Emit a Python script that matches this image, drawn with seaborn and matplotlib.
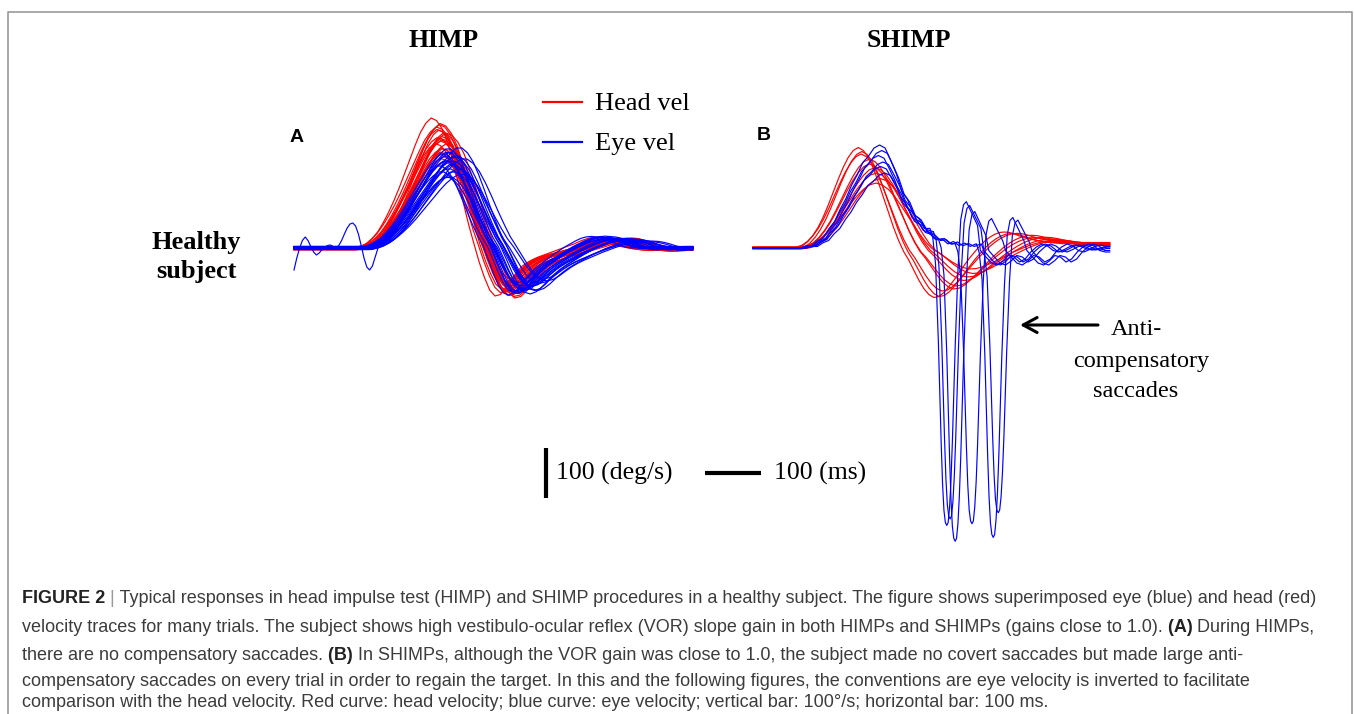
import matplotlib
matplotlib.use("Agg")
import matplotlib.pyplot as plt
from matplotlib.lines import Line2D
import numpy as np
import pandas as pd
import seaborn as sns

W, H = 1354, 714
STEP = 10          # ms between template samples
PX_MS = 0.56       # pixels per ms (100 ms bar = 56 px)
PX_DEG = 0.5       # pixels per deg/s (100 deg/s bar = 50 px)
SERIF = "Liberation Serif"
SANS = "Liberation Sans"
RED, BLUE = "#ff0000", "#0000ff"

# ---------------- panel A (HIMP) ----------------
# head velocity shape: positive lobe (fraction of peak), 0..220 ms after onset
HEAD_A_LOBE = [0.00, 0.01, 0.03, 0.07, 0.12, 0.19, 0.27, 0.36, 0.46, 0.57, 0.68, 0.79,
               0.89, 0.96, 1.00, 0.98, 0.92, 0.82, 0.68, 0.52, 0.35, 0.18, 0.03]
# then the undershoot (fraction of dip), 230..580 ms after onset
HEAD_A_TAIL = [-0.30, -0.62, -0.88, -1.00, -0.97, -0.85, -0.68, -0.52, -0.40, -0.32,
               -0.26, -0.21, -0.17, -0.13, -0.09, -0.05, -0.01, 0.03, 0.07, 0.12,
               0.16, 0.19, 0.20, 0.19, 0.16, 0.12, 0.08, 0.05, 0.02, 0.00,
               -0.02, -0.03, -0.03, -0.02, -0.01, 0.00]
head_a_onset = [112, 118, 122, 106, 128, 115, 120, 132, 110, 125, 108, 130, 119, 116, 124,
                136, 113, 121, 127, 117, 109, 129]
head_a_peak = [258, 252, 246, 242, 238, 234, 231, 228, 225, 222, 219, 216, 213, 210, 206,
               202, 198, 194, 190, 185, 180, 172]
head_a_dip = [98, 92, 88, 95, 80, 86, 90, 72, 84, 78, 100, 70, 82, 88, 76, 65, 93, 74, 68,
              85, 96, 62]
head_a_stretch = [0.95, 1.02, 0.98, 1.06, 0.93, 1.00, 1.08, 0.96, 1.04, 0.99, 1.10, 0.94,
                  1.03, 0.97, 1.05, 0.92, 1.07, 1.00, 0.95, 1.02, 1.09, 0.98]
head_a_base = [2, -3, 1, 0, -2, 3, -1, 2, -4, 1, 0, -2, 3, -1, 2, -3, 1, -2, 0, 2, -1, 1]

EYE_A_LOBE = [0.00, 0.02, 0.05, 0.09, 0.15, 0.22, 0.30, 0.39, 0.49, 0.59, 0.69, 0.79,
              0.88, 0.95, 1.00, 1.00, 0.95, 0.86, 0.73, 0.58, 0.42, 0.27, 0.13, 0.02]
EYE_A_TAIL = [-0.25, -0.55, -0.80, -0.96, -1.00, -0.95, -0.84, -0.70, -0.57, -0.46,
              -0.37, -0.29, -0.21, -0.13, -0.06, 0.01, 0.07, 0.13, 0.18, 0.21,
              0.22, 0.21, 0.20, 0.17, 0.12, 0.06, 0.02, -0.01, -0.02, -0.01, 0.00]
eye_a_onset = [150, 136, 128, 140, 133, 125, 138, 131, 144, 127, 135, 129, 142, 134, 126,
               139, 132, 137, 124, 141, 130, 135]
eye_a_peak = [200, 196, 192, 190, 187, 185, 182, 180, 178, 175, 173, 170, 168, 165, 162,
              160, 157, 154, 150, 147, 143, 140]
eye_a_dip = [85, 78, 90, 70, 82, 94, 75, 88, 66, 80, 92, 72, 84, 77, 96, 68, 86, 74, 90,
             62, 80, 88]
eye_a_stretch = [1.00, 0.96, 1.05, 0.93, 1.08, 0.98, 1.03, 0.95, 1.10, 1.00, 0.94, 1.06,
                 0.97, 1.04, 0.92, 1.07, 0.99, 1.02, 0.96, 1.09, 1.01, 0.95]
eye_a_base = [0, 2, -2, 1, -3, 3, -1, 2, 0, -2, 1, 3, -1, 0, 2, -3, 1, -2, 2, 0, -1, 1]
# the one noisy eye trace before its onset (ms, deg/s)
wiggle_t = [0, 5, 10, 15, 20, 25, 30, 35, 40, 45, 50, 55, 60, 65, 70, 75, 80, 85, 90, 95,
            100, 105, 110, 115, 120, 125, 130, 135, 140, 145, 150]
wiggle_v = [-44, -20, 0, 15, 22, 15, 3, -8, -14, -10, -3, 2, 5, 6, 3, 0, 5, 15, 28, 40,
            48, 50, 44, 28, 5, -20, -38, -44, -36, -18, 0]
A_END = 712

# ---------------- panel B (SHIMP) ----------------
HEAD_B_LOBE = [0.00, 0.02, 0.06, 0.12, 0.20, 0.30, 0.42, 0.55, 0.68, 0.80, 0.90, 0.97,
               1.00, 0.97, 0.90, 0.79, 0.65, 0.50, 0.35, 0.20, 0.07]
HEAD_B_TAIL = [-0.08, -0.25, -0.45, -0.65, -0.82, -0.94, -1.00, -0.98, -0.90, -0.78,
               -0.65, -0.50, -0.36, -0.22, -0.10, 0.02, 0.12, 0.20, 0.26, 0.30,
               0.31, 0.30, 0.27, 0.23, 0.20, 0.17, 0.15, 0.13, 0.12, 0.11,
               0.10, 0.10, 0.10, 0.10, 0.10]
head_b_onset = [80, 84, 78, 88, 86, 92, 90, 95, 85]
head_b_peak = [200, 194, 186, 178, 170, 160, 150, 140, 128]
head_b_dip = [100, 96, 88, 82, 74, 66, 58, 50, 44]
head_b_stretch = [0.90, 0.92, 0.96, 1.00, 1.02, 1.05, 1.08, 1.10, 1.12]
head_b_base = [1, -1, 2, 0, -2, 1, 0, -1, 2]

# eye velocity before the saccade (fraction of peak), 0..350 ms after onset
EYE_B_RISE = [0.00, 0.02, 0.02, 0.07, 0.10, 0.19, 0.26, 0.38, 0.48, 0.61, 0.71, 0.83,
              0.89, 0.97, 1.00, 0.97, 0.85, 0.72, 0.55, 0.47, 0.33, 0.29, 0.19, 0.17,
              0.10, 0.11, 0.05, 0.08, 0.03, 0.06, 0.02, 0.05, 0.01, 0.04, 0.01, 0.03]
# anti-compensatory saccade (fraction of depth), ms around its peak
SAC_T = [-30, -25, -20, -15, -10, -7.5, -5, -2.5, 0, 2.5, 5, 7.5, 10, 15, 20, 25, 30, 35,
         40, 45, 50, 55]
SAC_V = [0.00, 0.03, 0.12, 0.38, 0.72, 0.86, 0.95, 0.99, 1.00, 0.99, 0.94, 0.85, 0.72,
         0.40, 0.14, -0.03, -0.08, -0.09, -0.07, -0.05, -0.03, -0.01]
# eye velocity after the saccade (deg/s), from 60 ms after its peak
EYE_B_POST = [-5, -18, -30, -34, -26, -15, -18, -28, -22, -8, 2, 8, 4, -5, -8, -3, 3, 6,
              3, -2, -4, -1, 2, 3, 1, -1, -2, 0, 1, 0]
eye_b_onset = [86, 90, 84, 92, 88, 95]
eye_b_peak = [206, 195, 185, 172, 163, 150]
eye_b_sac = [346, 352, 361, 391, 429, 438]
eye_b_depth = [594, 575, 605, 560, 587, 537]
B_END = 637


def impulse_trace(onset, lobe, peak, tail, dip, base, end, stretch=1.0, pre_t=None, pre_v=None):
    vals = np.concatenate([np.asarray(lobe) * peak, np.asarray(tail) * dip]) + base
    t = onset + np.arange(len(vals)) * STEP * stretch
    keep = t <= end
    t, vals = t[keep], vals[keep]
    if pre_t is None:
        pre_t, pre_v = [0], [base]
    t = np.concatenate([pre_t, t, [end]])
    vals = np.concatenate([pre_v, vals, [vals[-1]]])
    return t, vals


def saccade_trace(onset, peak, sac, depth, end):
    rise = np.asarray(EYE_B_RISE) * peak
    t_rise = onset + np.arange(len(rise)) * STEP
    pre = t_rise < sac + SAC_T[0]
    level = rise[pre][-1]
    t = np.concatenate([[0], t_rise[pre], sac + np.asarray(SAC_T),
                        sac + 60 + np.arange(len(EYE_B_POST)) * STEP])
    v = np.concatenate([[0], rise[pre], level - depth * np.asarray(SAC_V), EYE_B_POST])
    keep = t <= end
    t, v = t[keep], v[keep]
    return np.append(t, end), np.append(v, v[-1])


frames_a = []
for i in range(len(head_a_onset)):
    t, v = impulse_trace(head_a_onset[i], HEAD_A_LOBE, head_a_peak[i], HEAD_A_TAIL,
                         head_a_dip[i], head_a_base[i], A_END, stretch=head_a_stretch[i])
    frames_a.append(pd.DataFrame({"t": t, "v": v, "kind": "Head vel", "trial": f"h{i}"}))
for i in range(len(eye_a_onset)):
    extra = dict(pre_t=wiggle_t, pre_v=wiggle_v) if i == 0 else {}
    t, v = impulse_trace(eye_a_onset[i], EYE_A_LOBE, eye_a_peak[i], EYE_A_TAIL,
                         eye_a_dip[i], eye_a_base[i], A_END, stretch=eye_a_stretch[i], **extra)
    frames_a.append(pd.DataFrame({"t": t, "v": v, "kind": "Eye vel", "trial": f"e{i}"}))
df_a = pd.concat(frames_a, ignore_index=True)

frames_b = []
for i in range(len(head_b_onset)):
    t, v = impulse_trace(head_b_onset[i], HEAD_B_LOBE, head_b_peak[i], HEAD_B_TAIL,
                         head_b_dip[i], head_b_base[i], B_END, stretch=head_b_stretch[i])
    frames_b.append(pd.DataFrame({"t": t, "v": v, "kind": "Head vel", "trial": f"h{i}"}))
for i in range(len(eye_b_onset)):
    t, v = saccade_trace(eye_b_onset[i], eye_b_peak[i], eye_b_sac[i], eye_b_depth[i], B_END)
    frames_b.append(pd.DataFrame({"t": t, "v": v, "kind": "Eye vel", "trial": f"e{i}"}))
df_b = pd.concat(frames_b, ignore_index=True)


def fx(px):
    return px / W


def fy(py):
    return 1 - py / H


fig = plt.figure(figsize=(W / 100, H / 100), dpi=100)
fig.patch.set_facecolor("white")


def panel_axes(x0, y0, left, right, top, bottom):
    ax = fig.add_axes([fx(left), fy(bottom), (right - left) / W, (bottom - top) / H])
    ax.set_xlim((left - x0) / PX_MS, (right - x0) / PX_MS)
    ax.set_ylim((y0 - bottom) / PX_DEG, (y0 - top) / PX_DEG)
    ax.axis("off")
    return ax


ax_a = panel_axes(294, 248, 284, 900, 90, 520)
ax_b = panel_axes(753, 248, 745, 1120, 120, 565)

palette = {"Head vel": RED, "Eye vel": BLUE}
for ax, df in [(ax_a, df_a), (ax_b, df_b)]:
    sns.lineplot(data=df, x="t", y="v", hue="kind", hue_order=["Head vel", "Eye vel"],
                 units="trial", estimator=None, sort=False, palette=palette,
                 linewidth=0.85, legend=False, ax=ax)
    ax.axis("off")

# scale bars (drawn in panel A units)
ax_a.plot([450, 450], [-400, -500], color="black", lw=3, solid_capstyle="butt", clip_on=False)
ax_a.plot([734, 834], [-450, -450], color="black", lw=3, solid_capstyle="butt", clip_on=False)
ax_a.text(467, -450, "100 (deg/s)", va="center", ha="left", family=SERIF, fontsize=18.5)
ax_a.text(857, -450, "100 (ms)", va="center", ha="left", family=SERIF, fontsize=18.5)

# arrow to the saccades
ax_b.annotate("", xy=((1020 - 753) / PX_MS, (248 - 325) / PX_DEG),
              xytext=((1098 - 753) / PX_MS, (248 - 325) / PX_DEG),
              arrowprops=dict(arrowstyle="->,head_length=0.5,head_width=0.27",
                              lw=2.2, color="black", mutation_scale=20,
                              shrinkA=0, shrinkB=0))
for txt, x, y in [("Anti-", 1136, 335), ("compensatory", 1141, 367), ("saccades", 1136, 397)]:
    fig.text(fx(x), fy(y), txt, ha="center", va="baseline", family=SERIF, fontsize=17.5)

# titles and labels
fig.text(fx(444), fy(47), "HIMP", ha="center", va="baseline", family=SERIF,
         fontweight="bold", fontsize=18.5)
fig.text(fx(909), fy(47), "SHIMP", ha="center", va="baseline", family=SERIF,
         fontweight="bold", fontsize=18.5)
fig.text(fx(196), fy(249), "Healthy", ha="center", va="baseline", family=SERIF,
         fontweight="bold", fontsize=19)
fig.text(fx(196), fy(278), "subject", ha="center", va="baseline", family=SERIF,
         fontweight="bold", fontsize=19)
fig.text(fx(297), fy(142), "A", ha="center", va="baseline", family=SANS,
         fontweight="bold", fontsize=14)
fig.text(fx(764), fy(140), "B", ha="center", va="baseline", family=SANS,
         fontweight="bold", fontsize=14)

# legend
for label, color, y, base in [("Head vel", RED, 102, 110), ("Eye vel", BLUE, 142, 150)]:
    fig.add_artist(Line2D([fx(543), fx(582)], [fy(y), fy(y)], color=color, lw=1.6))
    fig.text(fx(595), fy(base), label, ha="left", va="baseline", family=SERIF, fontsize=19)

# frame around the figure area
fig.add_artist(Line2D([fx(7.5), fx(7.5), fx(1351.5), fx(1351.5)],
                      [0, fy(11.5), fy(11.5), 0], color="#9a9a9a", lw=1.2))

# caption
DARK, TXT, BAR = "#222222", "#3c3c3c", "#9a9a9a"
caption = [
    [("FIGURE 2", "bold", DARK), (" |", "normal", BAR),
     (" Typical responses in head impulse test (HIMP) and SHIMP procedures in a healthy "
      "subject. The figure shows superimposed eye (blue) and head (red)", "normal", TXT)],
    [("velocity traces for many trials. The subject shows high vestibulo-ocular reflex (VOR) "
      "slope gain in both HIMPs and SHIMPs (gains close to 1.0).", "normal", TXT),
     (" (A)", "bold", DARK), (" During HIMPs,", "normal", TXT)],
    [("there are no compensatory saccades.", "normal", TXT), (" (B)", "bold", DARK),
     (" In SHIMPs, although the VOR gain was close to 1.0, the subject made no covert "
      "saccades but made large anti-", "normal", TXT)],
    [("compensatory saccades on every trial in order to regain the target. In this and the "
      "following figures, the conventions are eye velocity is inverted to facilitate",
      "normal", TXT)],
    [("comparison with the head velocity. Red curve: head velocity; blue curve: eye velocity; "
      "vertical bar: 100\u00b0/s; horizontal bar: 100 ms.", "normal", TXT)],
]
baselines = [603, 632, 660, 686, 707]
renderer = fig.canvas.get_renderer()


def draw_line(segments, x, y, size):
    cur = x
    made = []
    for text, weight, color in segments:
        t = fig.text(fx(cur), fy(y), text, fontsize=size, fontweight=weight, color=color,
                     family=SANS, ha="left", va="baseline")
        cur += t.get_window_extent(renderer).width
        made.append(t)
    return cur - x, made


width, tmp = draw_line(caption[0], 22, baselines[0], 12)
for t in tmp:
    t.remove()
cap_size = 12 * 1296 / width
for segs, y in zip(caption, baselines):
    draw_line(segs, 22, y, cap_size)

fig.savefig("out.png", dpi=100, facecolor="white")
